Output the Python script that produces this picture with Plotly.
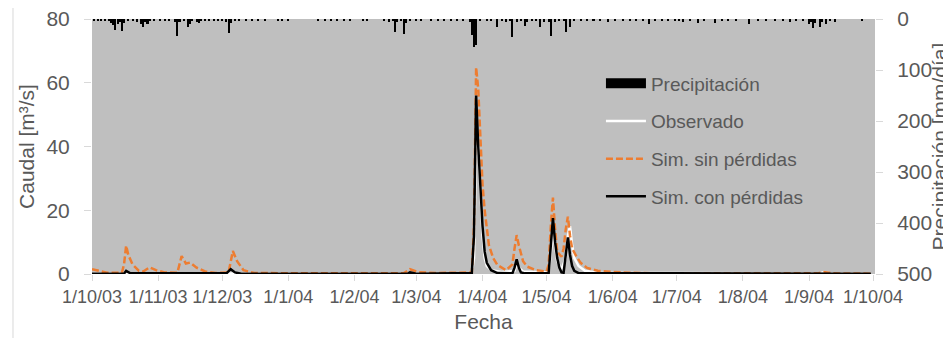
import plotly.graph_objects as go

# ---------------- data ----------------
tick_vals = ["2003-10-01", "2003-11-01", "2003-12-01", "2004-01-01", "2004-02-01",
             "2004-03-01", "2004-04-01", "2004-05-01", "2004-06-01", "2004-07-01",
             "2004-08-01", "2004-09-01", "2004-10-01"]
tick_text = ["1/10/03", "1/11/03", "1/12/03", "1/1/04", "1/2/04", "1/3/04", "1/4/04",
             "1/5/04", "1/6/04", "1/7/04", "1/8/04", "1/9/04", "1/10/04"]

precip_dates = [
    "2003-10-02", "2003-10-04", "2003-10-05", "2003-10-07", "2003-10-09", "2003-10-10",
    "2003-10-11", "2003-10-12", "2003-10-13", "2003-10-14", "2003-10-15", "2003-10-16",
    "2003-10-18", "2003-10-20", "2003-10-22", "2003-10-24", "2003-10-25", "2003-10-26",
    "2003-10-27", "2003-10-28", "2003-10-30", "2003-11-02", "2003-11-04", "2003-11-06",
    "2003-11-09", "2003-11-10", "2003-11-11", "2003-11-13", "2003-11-15", "2003-11-16",
    "2003-11-17", "2003-11-19", "2003-11-20", "2003-11-21", "2003-11-23", "2003-11-25",
    "2003-11-27", "2003-11-29", "2003-12-01", "2003-12-03", "2003-12-04", "2003-12-05",
    "2003-12-07", "2003-12-09", "2003-12-12", "2003-12-15", "2003-12-18", "2003-12-21",
    "2003-12-27", "2003-12-29", "2004-01-01", "2004-01-15", "2004-01-18", "2004-01-21",
    "2004-01-24", "2004-01-27", "2004-01-30", "2004-02-05", "2004-02-07", "2004-02-15",
    "2004-02-17", "2004-02-19", "2004-02-20", "2004-02-21", "2004-02-23", "2004-02-24",
    "2004-02-25", "2004-02-27", "2004-03-01", "2004-03-03", "2004-03-08", "2004-03-11",
    "2004-03-14", "2004-03-17", "2004-03-20", "2004-03-23", "2004-03-26", "2004-03-27",
    "2004-03-28", "2004-03-29", "2004-03-31", "2004-04-03", "2004-04-05", "2004-04-08",
    "2004-04-10", "2004-04-12", "2004-04-14", "2004-04-15", "2004-04-17", "2004-04-19",
    "2004-04-21", "2004-04-22", "2004-04-24", "2004-04-26", "2004-04-28", "2004-04-30",
    "2004-05-02", "2004-05-03", "2004-05-05", "2004-05-07", "2004-05-09", "2004-05-10",
    "2004-05-12", "2004-05-14", "2004-05-17", "2004-05-20", "2004-05-23", "2004-05-26",
    "2004-05-30", "2004-06-02", "2004-06-06", "2004-06-09", "2004-06-12", "2004-06-15",
    "2004-06-18", "2004-06-21", "2004-06-24", "2004-06-27", "2004-06-30", "2004-07-02",
    "2004-07-04", "2004-07-07", "2004-07-11", "2004-07-14", "2004-07-19", "2004-07-22",
    "2004-07-25", "2004-07-29", "2004-08-04", "2004-08-08", "2004-08-12", "2004-08-16",
    "2004-08-20", "2004-08-23", "2004-08-26", "2004-08-29", "2004-09-01", "2004-09-02",
    "2004-09-03", "2004-09-04", "2004-09-06", "2004-09-07", "2004-09-09", "2004-09-11",
    "2004-09-13", "2004-09-26",
]
precip_mm = [
    2, 3, 2, 2, 4, 8,
    12, 22, 10, 6, 24, 8,
    3, 4, 6, 10, 16, 6,
    9, 4, 3, 2, 3, 2,
    5, 33, 6, 4, 16, 10,
    4, 5, 7, 4, 3, 4,
    3, 2, 4, 5, 27, 8,
    3, 4, 2, 3, 2, 3,
    2, 3, 2, 2, 3, 2,
    3, 2, 3, 3, 4, 3,
    5, 4, 26, 6, 4, 29,
    8, 3, 3, 2, 3, 2,
    3, 2, 3, 4, 5, 32,
    54, 50, 4, 3, 4, 16,
    4, 5, 3, 35, 6, 4,
    13, 5, 3, 4, 16, 5,
    6, 33, 5, 4, 3, 26,
    16, 4, 3, 4, 3, 4,
    6, 3, 4, 3, 3, 4,
    9, 3, 3, 2, 3, 3,
    6, 3, 7, 4, 8, 3,
    3, 4, 9, 3, 4, 3,
    4, 5, 3, 4, 10, 6,
    18, 8, 15, 6, 9, 4,
    5, 4,
]

obs_dates = ["2003-10-01", "2004-03-27", "2004-03-28", "2004-03-29", "2004-03-30",
             "2004-03-31", "2004-04-01", "2004-04-02", "2004-04-03", "2004-04-05",
             "2004-04-10", "2004-04-16", "2004-04-17", "2004-04-18", "2004-04-20",
             "2004-05-02", "2004-05-03", "2004-05-04", "2004-05-05", "2004-05-06",
             "2004-05-08", "2004-05-10", "2004-05-11", "2004-05-12", "2004-05-13",
             "2004-05-14", "2004-05-16", "2004-05-19", "2004-05-25", "2004-09-06",
             "2004-09-08", "2004-09-11", "2004-09-30"]
obs_q = [0.1, 0.2, 5, 40, 42,
         25, 12, 5, 2.5, 1.2,
         0.6, 1.0, 3.0, 2.0, 0.8,
         0.5, 6, 13, 9, 4,
         1.5, 5, 12, 15, 9,
         5, 2.5, 1.0, 0.4, 0.2,
         0.6, 0.2, 0.1]

sin_dates = ["2003-10-01", "2003-10-04", "2003-10-08", "2003-10-15", "2003-10-16",
             "2003-10-17", "2003-10-18", "2003-10-20", "2003-10-23", "2003-10-25",
             "2003-10-28", "2003-10-31", "2003-11-04", "2003-11-10", "2003-11-12",
             "2003-11-14", "2003-11-16", "2003-11-19", "2003-11-23", "2003-11-28",
             "2003-12-04", "2003-12-06", "2003-12-08", "2003-12-11", "2003-12-16",
             "2004-01-15", "2004-02-24", "2004-02-27", "2004-03-02", "2004-03-10",
             "2004-03-27", "2004-03-28", "2004-03-29", "2004-03-30", "2004-03-31",
             "2004-04-01", "2004-04-02", "2004-04-03", "2004-04-04", "2004-04-06",
             "2004-04-08", "2004-04-12", "2004-04-15", "2004-04-16", "2004-04-17",
             "2004-04-18", "2004-04-19", "2004-04-20", "2004-04-22", "2004-04-26",
             "2004-05-01", "2004-05-02", "2004-05-03", "2004-05-04", "2004-05-05",
             "2004-05-06", "2004-05-08", "2004-05-09", "2004-05-10", "2004-05-11",
             "2004-05-12", "2004-05-13", "2004-05-15", "2004-05-17", "2004-05-20",
             "2004-05-25", "2004-06-05", "2004-06-20", "2004-09-05", "2004-09-08",
             "2004-09-12", "2004-09-30"]
sin_q = [1.5, 1.0, 0.4, 0.4, 3.0,
         8.9, 6.0, 3.0, 1.0, 0.8,
         2.1, 1.2, 0.5, 0.4, 5.6,
         3.3, 3.6, 2.0, 0.8, 0.3,
         0.5, 7.2, 4.0, 1.2, 0.3,
         0.2, 0.2, 1.5, 0.6, 0.3,
         0.5, 15, 64.8, 58, 42,
         28, 20, 14, 9, 5,
         2.8, 1.2, 3.0, 8.0, 12.2,
         9.0, 6.0, 4.0, 2.3, 1.2,
         0.8, 3.0, 15, 24, 14,
         7.0, 5.4, 8.0, 14, 18,
         12, 8.0, 5.5, 3.5, 1.9,
         1.0, 0.5, 0.2, 0.2, 0.6,
         0.2, 0.1]

con_dates = ["2003-10-01", "2003-10-16", "2003-10-17", "2003-10-19", "2003-12-03",
             "2003-12-05", "2003-12-07", "2003-12-10", "2004-02-26", "2004-02-27",
             "2004-03-01", "2004-03-27", "2004-03-28", "2004-03-29", "2004-03-30",
             "2004-03-31", "2004-04-01", "2004-04-02", "2004-04-03", "2004-04-05",
             "2004-04-08", "2004-04-15", "2004-04-16", "2004-04-17", "2004-04-18",
             "2004-04-19", "2004-04-21", "2004-05-02", "2004-05-03", "2004-05-04",
             "2004-05-05", "2004-05-06", "2004-05-07", "2004-05-08", "2004-05-09",
             "2004-05-10", "2004-05-11", "2004-05-12", "2004-05-13", "2004-05-14",
             "2004-05-16", "2004-09-30"]
con_q = [0.1, 0.1, 1.0, 0.2, 0.2,
         1.5, 0.5, 0.1, 0.1, 0.5,
         0.1, 0.3, 12, 56, 40,
         26, 15, 7, 3.5, 1.2,
         0.3, 0.2, 2.0, 4.6, 2.0,
         0.5, 0.2, 0.3, 10, 17.5,
         10, 5, 2, 0.5, 0.4,
         6, 11.5, 6, 2.5, 1.0,
         0.3, 0.1]

# ---------------- figure ----------------
GREY_TXT = "#595959"
FONT = "Liberation Sans, Arial, sans-serif"

fig = go.Figure()

# legend stand-in for the precipitation bars
fig.add_trace(go.Scatter(x=[None], y=[None], mode="lines", name="Precipitación",
                         line=dict(color="black", width=10), legendgroup="p"))
fig.add_trace(go.Scatter(x=obs_dates, y=obs_q, mode="lines", name="Observado",
                         line=dict(color="white", width=2.5), legendgroup="o"))
fig.add_trace(go.Scatter(x=sin_dates, y=sin_q, mode="lines", name="Sim. sin pérdidas",
                         line=dict(color="#ED7D31", width=2.5, dash="7px,3px"),
                         legendgroup="s"))
fig.add_trace(go.Scatter(x=con_dates, y=con_q, mode="lines", name="Sim. con pérdidas",
                         line=dict(color="black", width=2.5), legendgroup="c"))
fig.add_trace(go.Bar(x=precip_dates, y=precip_mm, yaxis="y2", name="Precipitación",
                     marker=dict(color="black", line=dict(width=0)),
                     width=86400000 * 0.95, showlegend=False))

fig.update_layout(
    width=943, height=330,
    margin=dict(l=84, r=76, t=11, b=64),
    paper_bgcolor="white",
    plot_bgcolor="#BFBFBF",
    font=dict(family=FONT, color=GREY_TXT),
    bargap=0,
    showlegend=True,
    legend=dict(x=0.65, y=0.822, xanchor="left", yanchor="top",
                bgcolor="rgba(0,0,0,0)", font=dict(size=19, color=GREY_TXT),
                tracegroupgap=10, itemwidth=40),
    xaxis=dict(
        type="date", range=["2003-10-01", "2004-10-01 22:00"],
        tickvals=tick_vals, ticktext=tick_text,
        tickfont=dict(size=18, color=GREY_TXT),
        ticks="outside", ticklen=6, tickcolor="#D9D9D9",
        showgrid=False, zeroline=False, showline=False,
        ticklabeloverflow="allow",
        title=dict(text="Fecha", font=dict(size=21, color=GREY_TXT), standoff=8),
        automargin=False,
    ),
    yaxis=dict(
        range=[0, 80], dtick=20,
        tickfont=dict(size=21, color=GREY_TXT),
        ticks="outside", ticklen=7, tickcolor="#D9D9D9",
        ticklabelstandoff=10, ticklabeloverflow="allow",
        showgrid=False, zeroline=False, showline=False,
        title=dict(text="Caudal [m³/s]", font=dict(size=21, color=GREY_TXT), standoff=6),
        automargin=False,
    ),
    yaxis2=dict(
        range=[500, 0], dtick=100, overlaying="y", side="right",
        tickfont=dict(size=21, color=GREY_TXT),
        ticks="outside", ticklen=7, tickcolor="#D9D9D9",
        ticklabelstandoff=10, ticklabeloverflow="allow",
        showgrid=False, zeroline=False, showline=False,
        title=dict(text="Precipitación [mm/día]", font=dict(size=21, color=GREY_TXT),
                   standoff=2),
        automargin=False,
    ),
    shapes=[dict(type="rect", xref="paper", yref="paper",
                 x0=-0.1009, x1=1.11, y0=-0.3, y1=1.0549,
                 line=dict(color="#D9D9D9", width=1), fillcolor="rgba(0,0,0,0)",
                 layer="below")],
)

fig.write_html("out.html")
